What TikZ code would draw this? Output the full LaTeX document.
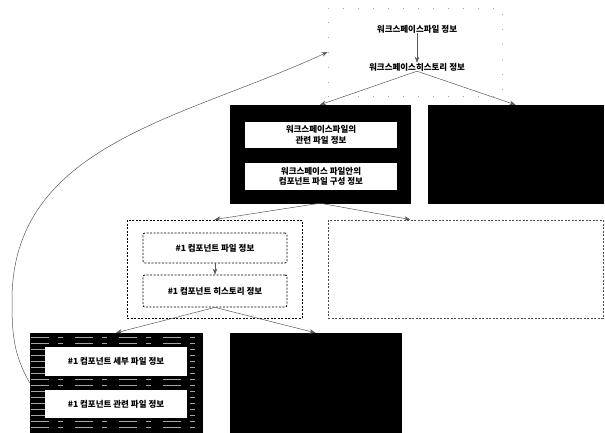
\documentclass[tikz,border=0pt]{standalone}
\usepackage{fontspec}
\setmainfont{Noto Sans CJK KR}
\usetikzlibrary{arrows.meta,calc}
\begin{document}
\begin{tikzpicture}[x=1pt,y=-1pt,
  lbl/.style={font=\bfseries\fontsize{8.5}{10}\selectfont, align=center, inner sep=0pt},
  blackbox/.style={fill=black, draw=black, inner sep=0pt},
  whitebox/.style={fill=white, draw=none, inner sep=0pt, font=\bfseries\fontsize{8.5}{10.5}\selectfont, align=center},
  dashbox/.style={draw=black, line width=0.9pt, dash pattern=on 2pt off 1.5pt, inner sep=0pt},
  dashinner/.style={draw=black, line width=0.8pt, dash pattern=on 2pt off 1.5pt, rounded corners=2pt, inner sep=0pt, font=\bfseries\fontsize{8.5}{10}\selectfont},
  faintbox/.style={draw=black!35, line width=0.8pt, dash pattern=on 1pt off 14pt, inner sep=0pt},
  conn/.style={draw=black!65, line width=0.5pt, -{Stealth[length=6pt,width=4.5pt]}},
]
\useasboundingbox (0,0) rectangle (605,433);

% top box
\node[faintbox, minimum width=174pt, minimum height=88pt] (top) at (415,52) {};
\node[lbl] (t1) at (417,29) {워크스페이스파일 정보};
\node[lbl] (t2) at (417,67) {워크스페이스히스토리 정보};

% level 1
\node[blackbox, minimum width=180pt, minimum height=98pt] (b1) at (320,154) {};
\node[whitebox, minimum width=152pt, minimum height=26pt] (b1a) at (321,135) {워크스페이스파일의\\관련 파일 정보};
\node[whitebox, minimum width=152pt, minimum height=27pt] (b1b) at (321,176.5) {워크스페이스 파일안의\\컴포넌트 파일 구성 정보};
\node[blackbox, minimum width=175pt, minimum height=98pt] (b2) at (515.5,154) {};

% level 2
\node[dashbox, minimum width=175pt, minimum height=98pt] (b3) at (214.5,269) {};
\node[dashinner, minimum width=144pt, minimum height=30pt] (b3a) at (215,248) {\#1 컴포넌트 파일 정보};
\node[dashinner, minimum width=144pt, minimum height=32pt] (b3b) at (215,291) {\#1 컴포넌트 히스토리 정보};
\node[dashbox, draw=black!70, minimum width=275pt, minimum height=98pt] (b4) at (465.5,269) {};

% level 3
\node[blackbox, minimum width=172pt, minimum height=100pt] (b5) at (116,383) {};
\foreach \yy in {337,343,...,431} {
  \draw[black!35, line width=0.5pt, dash pattern=on 18pt off 9pt on 5pt off 12pt]
    ($(b5.north west)+(1,\yy-333)$) -- ($(b5.north east)+(-1,\yy-333)$);
}
\node[whitebox, minimum width=142pt, minimum height=29pt] (b5a) at (116,361.5) {\#1 컴포넌트 세부 파일 정보};
\node[whitebox, minimum width=142pt, minimum height=28pt] (b5b) at (116,404) {\#1 컴포넌트 관련 파일 정보};
\node[blackbox, minimum width=171pt, minimum height=100pt] (b6) at (315.5,383) {};

% connectors
\draw[conn] (t1.south) -- (t2.north);
\draw[conn] (t2.south) -- (b1.north);
\draw[conn] (t2.south) -- (b2.north);
\draw[conn] (b1.south) -- (b3.north);
\draw[conn] (b1.south) -- ($(b4.north west)!0.3!(b4.north east)$);
\draw[conn] (b3a.south) -- (b3b.north);
\draw[conn] (b3b.south) -- (b5.north);
\draw[conn] (b3b.south) -- (b6.north);
\coordinate (cm) at (12,300);
\draw[conn] (b5.west) to[out=120,in=-90] (cm) to[out=90,in=205] (top.west);
\end{tikzpicture}
\end{document}
